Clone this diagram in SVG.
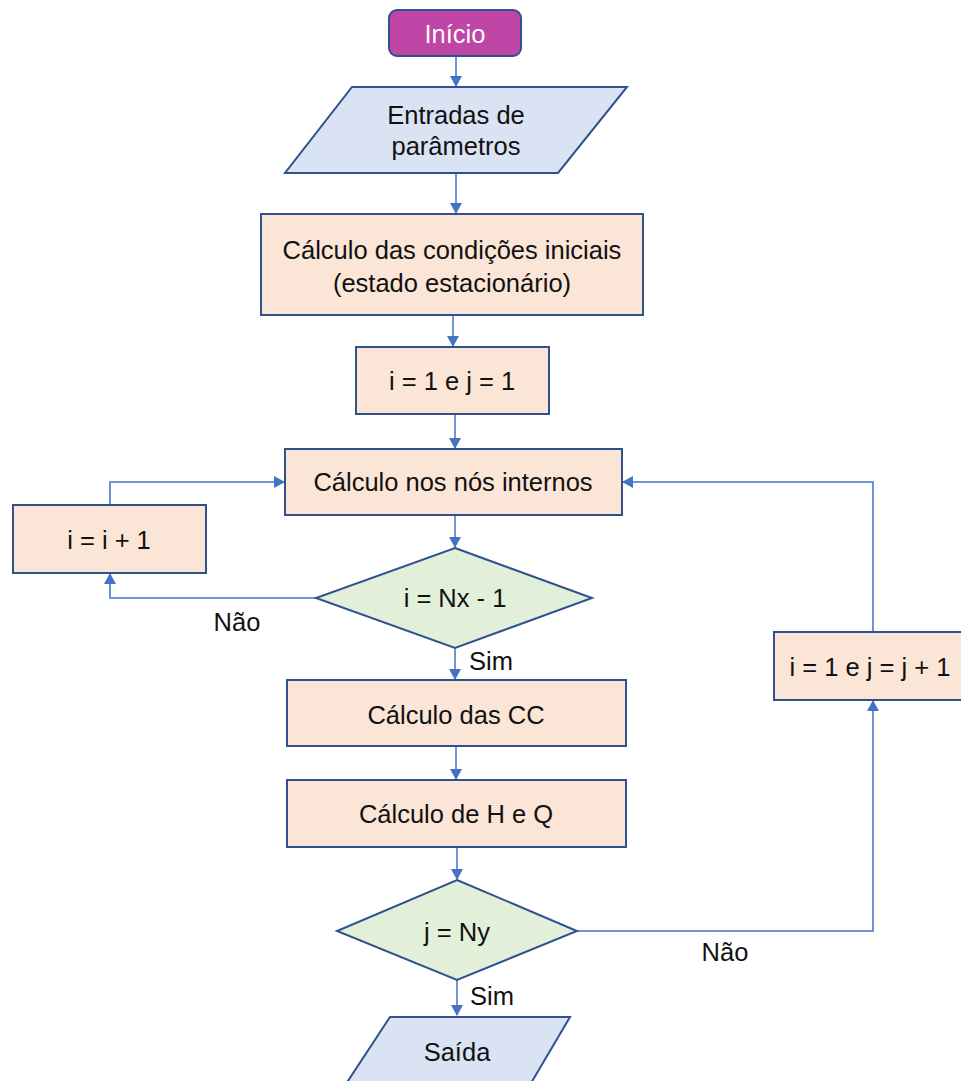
<svg xmlns="http://www.w3.org/2000/svg" width="961" height="1081" viewBox="0 0 961 1081">
<style>
text{font-family:"Liberation Sans",Arial,sans-serif;font-size:25.5px;fill:#111;text-anchor:middle;dominant-baseline:central}
.proc{fill:#FBE5D6;stroke:#2F528F;stroke-width:2}
.io{fill:#DAE3F3;stroke:#2F528F;stroke-width:2}
.dec{fill:#E2F0D9;stroke:#2F528F;stroke-width:2}
.term{fill:#BF45A6;stroke:#2F528F;stroke-width:2}
.c{fill:none;stroke:#4472C4;stroke-width:1.5}
</style>
<defs>
<marker id="ah" markerWidth="12" markerHeight="12" refX="10" refY="6" orient="auto" markerUnits="userSpaceOnUse">
<path d="M0,0 L11,6 L0,12 Z" fill="#4472C4"/>
</marker>
</defs>
<rect width="961" height="1081" fill="#fff"/>
<g id="connectors">
<path class="c" d="M456,56 V86" marker-end="url(#ah)"/>
<path class="c" d="M456,173 V213" marker-end="url(#ah)"/>
<path class="c" d="M453,315 V346" marker-end="url(#ah)"/>
<path class="c" d="M455,414 V448" marker-end="url(#ah)"/>
<path class="c" d="M455,515 V547" marker-end="url(#ah)"/>
<path class="c" d="M316,598 H110 V574" marker-end="url(#ah)"/>
<path class="c" d="M110,505 V482 H284" marker-end="url(#ah)"/>
<path class="c" d="M455,648 V679" marker-end="url(#ah)"/>
<path class="c" d="M456,746 V779" marker-end="url(#ah)"/>
<path class="c" d="M457,847 V879" marker-end="url(#ah)"/>
<path class="c" d="M577,931 H873 V701" marker-end="url(#ah)"/>
<path class="c" d="M873,632 V482 H623" marker-end="url(#ah)"/>
<path class="c" d="M457,980 V1015" marker-end="url(#ah)"/>
<text x="237" y="622">Não</text>
<text x="491" y="661">Sim</text>
<text x="725" y="952">Não</text>
<text x="492" y="996">Sim</text>
</g>
<g id="inicio">
<rect class="term" x="389" y="10" width="132" height="46" rx="8"/>
<text x="455" y="34" style="fill:#fff">Início</text>
</g>
<g id="entradas">
<polygon class="io" points="352,87 627,87 558,173 285,173"/>
<text x="456" y="115">Entradas de</text>
<text x="456" y="146">parâmetros</text>
</g>
<g id="condicoes">
<rect class="proc" x="261" y="214" width="382" height="101"/>
<text x="452" y="250">Cálculo das condições iniciais</text>
<text x="452" y="283">(estado estacionário)</text>
</g>
<g id="init_ij">
<rect class="proc" x="356" y="347" width="193" height="67"/>
<text x="452" y="381">i = 1 e j = 1</text>
</g>
<g id="nos_internos">
<rect class="proc" x="285" y="449" width="337" height="66"/>
<text x="453" y="482">Cálculo nos nós internos</text>
</g>
<g id="inc_i">
<rect class="proc" x="13" y="505" width="193" height="68"/>
<text x="109" y="540">i = i + 1</text>
</g>
<g id="dec_i">
<polygon class="dec" points="455,548 592,598 455,648 316,598"/>
<text x="455" y="598">i = Nx  - 1</text>
</g>
<g id="cc">
<rect class="proc" x="287" y="680" width="339" height="66"/>
<text x="456" y="715">Cálculo das CC</text>
</g>
<g id="hq">
<rect class="proc" x="287" y="780" width="339" height="67"/>
<text x="456" y="814">Cálculo de H e Q</text>
</g>
<g id="dec_j">
<polygon class="dec" points="457,880 577,931 457,980 337,931"/>
<text x="457" y="932">j = Ny</text>
</g>
<g id="inc_j">
<rect class="proc" x="774" y="632" width="198" height="68"/>
<text x="870" y="667">i = 1 e j = j + 1</text>
</g>
<g id="saida">
<polygon class="io" points="390,1017 570,1017 527,1090 342,1090"/>
<text x="457" y="1052">Saída</text>
</g>
</svg>
